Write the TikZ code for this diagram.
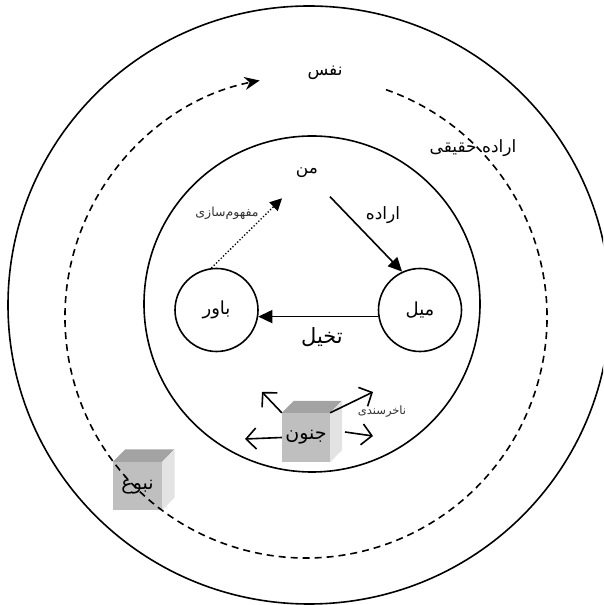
\documentclass[tikz,border=0pt]{standalone}
\usepackage{fontspec}
\newfontfamily\fafont[Script=Arabic]{DejaVu Sans}
\TeXXeTstate=1
\usetikzlibrary{arrows.meta}
\tikzset{
  lbl/.style={font=\fafont\fontsize{17}{19}\selectfont, inner sep=0pt},
  smalllbl/.style={font=\fafont\fontsize{12.5}{14}\selectfont, inner sep=0pt, text=black!80},
  ring/.style={circle, draw, line width=1.6pt, minimum size=83pt, inner sep=0pt, font=\fafont\fontsize{18}{20}\selectfont},
  bigring/.style={line width=1.6pt},
  dashring/.style={line width=1.6pt, dash pattern=on 7pt off 5pt},
  solidarr/.style={line width=1.6pt, -{Triangle[length=14pt,width=13pt]}},
  dotarr/.style={line width=1.3pt, dotted, -{Triangle[length=12pt,width=12pt]}},
  openarr/.style={line width=1.6pt, -{Straight Barb[length=10pt,width=21pt]}},
  cubefront/.style={fill=black!25, minimum width=48pt, minimum height=49pt, inner sep=0pt, font=\fafont\fontsize{19}{21}\selectfont},
  cubetop/.style={fill=black!36},
  cubeside/.style={fill=black!11},
}
\begin{document}
\begin{tikzpicture}[x=1pt,y=1pt]
\useasboundingbox (0,0) rectangle (603,605);
\clip (0,0) rectangle (603,605);
\fill[white] (0,0) rectangle (603,605);
% outer and inner circles
\draw[bigring] (309,300) ellipse [x radius=301, y radius=299];
\draw[bigring] (312,301) circle [radius=168];
% small circles
\node[ring] (bavar) at (216.5,295) {\beginR باور\endR};
\node[ring] (mil) at (420,295) {\beginR میل\endR};
% labels
\node[lbl] (nafs) at (325,532) {\beginR نفس\endR};
\node[lbl] (man) at (307,432) {\beginR من\endR};
\node[lbl] (erade) at (383,390) {\beginR اراده\endR};
\node[smalllbl] (mafhum) at (227,392) {\beginR مفهوم‌سازی\endR};
\node[lbl, font=\fafont\fontsize{21}{23}\selectfont] (takhayol) at (322,268) {\beginR تخیل\endR};
\node[lbl] (haghighi) at (473,457) {\beginR اراده حقیقی\endR};
\node[smalllbl, font=\fafont\fontsize{11.5}{13}\selectfont] (nakhor) at (382,193) {\beginR ناخرسندی\endR};
% connectors of the triangle
\coordinate (manR) at (330,408.3);
\coordinate (manL) at (282,406.7);
\draw[solidarr] (manR) -- (mil.115);
\draw[solidarr] (mil.189) -- (bavar.351);
\draw[dotarr] (bavar.97) -- (manL);
% cube junun
\node[cubefront] (junun) at (306,167.5) {\beginR جنون\endR};
\fill[cubetop] (junun.north west) -- ++(12,12) -- ++(48,0) -- (junun.north east) -- cycle;
\fill[cubeside] (junun.north east) -- ++(12,12) -- ++(0,-49) -- (junun.south east) -- cycle;
\coordinate (jUL) at (262,213);
\coordinate (jUR) at (373,213);
\coordinate (jL) at (245,166);
\coordinate (jRs) at (345,173);
\coordinate (jR) at (373,169);
\draw[openarr] (junun.north west) -- (jUL);
\draw[openarr] (junun.north east) -- (jUR);
\draw[openarr] (junun.west) -- (jL);
\draw[openarr] (jRs) -- (jR);
% cube nabogh
\node[cubefront, minimum width=49pt, minimum height=48pt] (nabogh) at (137.5,119) {\beginR نبوغ\endR};
\fill[cubetop] (nabogh.north west) -- ++(12.5,12.5) -- ++(49,0) -- (nabogh.north east) -- cycle;
\fill[cubeside] (nabogh.north east) -- ++(12.5,12.5) -- ++(0,-48) -- (nabogh.south east) -- cycle;
% dashed ring with arrow
\draw[dashring, -{Stealth[length=15pt,width=13pt]}] (306,288) ++(70.6:241) arc[start angle=70.6, end angle=-258.9, radius=241];
\end{tikzpicture}
\end{document}
